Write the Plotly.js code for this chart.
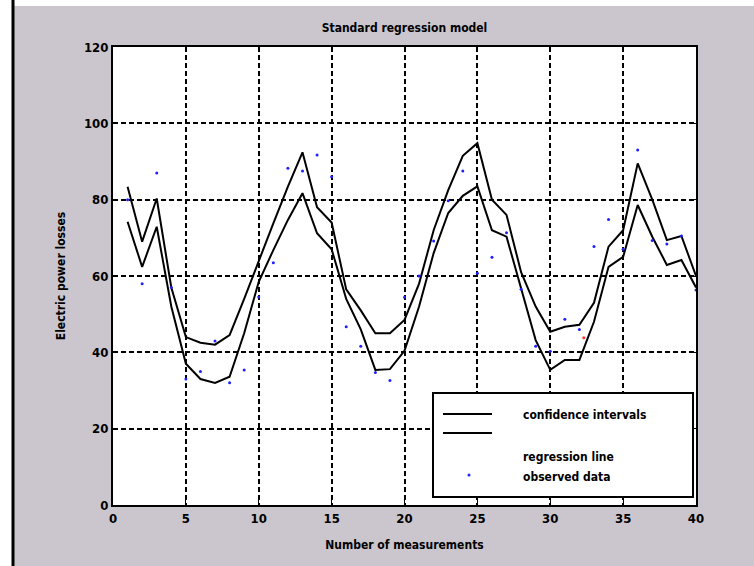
<!DOCTYPE html>
<html>
<head>
<meta charset="utf-8">
<script src="https://cdn.plot.ly/plotly-3.0.1.min.js"></script>
<style>html,body{margin:0;padding:0;background:#fff;}#chart{width:754px;height:566px;}</style>
</head>
<body>
<div id="chart"></div>
<script>
// Measurement index
const measurements = [1,2,3,4,5,6,7,8,9,10,11,12,13,14,15,16,17,18,19,20,21,22,23,24,25,26,27,28,29,30,31,32,33,34,35,36,37,38,39,40];
// Upper confidence bound
const upperCI = [83.4,69,80.3,57,44,42.5,42,44.5,54,64,73.8,83.4,92.4,78,74,56.5,51,45,45,48.5,58,72,82.5,91.5,94.8,80,76,61,52,45.4,46.7,47.2,53,67.7,72,89.5,80,69.4,70.5,60];
// Lower confidence bound
const lowerCI = [74.2,62.4,72.9,52,37,33,32,33.6,45,58.5,66.8,74.7,81.7,71.2,67,54,46,35.4,35.6,40.4,52,66,76.5,81,83.5,72,70.3,57,43.2,35.4,38,38,48,62.4,65,78.6,70.3,62.9,64.2,57];
// Observed data
const observed = [80,58,87,57,33,35,43,32,35.4,54.5,63.5,88.2,87.5,91.7,86,46.7,41.6,34.7,32.6,54.4,60,69.2,79.7,87.5,60.7,64.9,71.3,56.5,41.6,40.3,48.7,46,67.7,74.8,67,93,69.3,68.4,70.5,56.3];
// Highlighted point
const markedX = [32.3];
const markedY = [43.8];

const xTicks = [0,5,10,15,20,25,30,35,40];
const yTicks = [0,20,40,60,80,100,120];

const FONT = "'DejaVu Sans Condensed','DejaVu Sans',Arial,sans-serif";
const tickFont = {family: FONT, size: 13, color: '#000', weight: 'bold'};
const textFont = {family: FONT, size: 12, color: '#000', weight: 'bold'};

const traces = [
  {x: measurements, y: upperCI, mode: 'lines', line: {color: '#000', width: 2}, hoverinfo: 'skip'},
  {x: measurements, y: lowerCI, mode: 'lines', line: {color: '#000', width: 2}, hoverinfo: 'skip'},
  {x: measurements, y: observed, mode: 'markers', marker: {color: '#2020ff', size: 3}},
  {x: markedX, y: markedY, mode: 'markers', marker: {color: '#ff3030', size: 3}}
];

const L = 113, R = 696, T = 47, B = 505;
const px = v => (v - L) / (R - L);
const py = v => (B - v) / (B - T);

const axisCommon = {
  showline: true, linecolor: '#000', linewidth: 2, mirror: 'ticks',
  ticks: 'inside', ticklen: 5, tickwidth: 1, tickcolor: '#000',
  showgrid: true, gridcolor: '#000', gridwidth: 2, griddash: '5px,3px',
  zeroline: false, tickfont: tickFont
};

const layout = {
  width: 754, height: 566,
  margin: {l: L, r: 754 - R, t: T, b: 566 - B},
  paper_bgcolor: '#cbc6cd', plot_bgcolor: '#ffffff',
  showlegend: false,
  title: {text: 'Standard regression model', x: 0.5, xref: 'paper', y: 1 - 28/566, yref: 'container', yanchor: 'middle',
          font: textFont},
  xaxis: Object.assign({}, axisCommon, {range: [0, 40], tickvals: xTicks, ticktext: xTicks.map(String),
          title: {text: 'Number of measurements', standoff: 16, font: textFont}}),
  yaxis: Object.assign({}, axisCommon, {range: [0, 120], tickvals: yTicks, ticktext: yTicks.map(String),
          title: {text: 'Electric power losses', standoff: 16, font: textFont}}),
  shapes: [
    {type: 'rect', xref: 'paper', yref: 'paper', x0: -113/583, x1: -101/583, y0: -2, y1: 2, fillcolor: '#ffffff', line: {width: 0}, layer: 'below'},
    {type: 'rect', xref: 'paper', yref: 'paper', x0: -2, x1: 2, y0: py(6), y1: py(-20), fillcolor: '#ffffff', line: {width: 0}, layer: 'below'},
    {type: 'line', xref: 'paper', yref: 'paper', x0: px(13), x1: px(13), y0: py(0), y1: py(570), line: {color: '#000', width: 3}},
    {type: 'rect', xref: 'paper', yref: 'paper', x0: px(433), x1: px(693), y0: py(497), y1: py(393), fillcolor: '#ffffff', line: {color: '#000', width: 2}, layer: 'above'},
    {type: 'line', xref: 'paper', yref: 'paper', x0: px(443), x1: px(492), y0: py(414), y1: py(414), line: {color: '#000', width: 2}},
    {type: 'line', xref: 'paper', yref: 'paper', x0: px(443), x1: px(492), y0: py(433), y1: py(433), line: {color: '#000', width: 2}},
    {type: 'circle', xref: 'paper', yref: 'paper', x0: px(467.5), x1: px(470.5), y0: py(476.5), y1: py(473.5), fillcolor: '#2020ff', line: {width: 0}}
  ],
  annotations: [
    {text: 'confidence intervals', xref: 'paper', yref: 'paper', x: px(521), y: py(415), xanchor: 'left', yanchor: 'middle', showarrow: false, font: textFont},
    {text: 'regression line', xref: 'paper', yref: 'paper', x: px(521), y: py(457), xanchor: 'left', yanchor: 'middle', showarrow: false, font: textFont},
    {text: 'observed data', xref: 'paper', yref: 'paper', x: px(521), y: py(477), xanchor: 'left', yanchor: 'middle', showarrow: false, font: textFont}
  ]
};

Plotly.newPlot('chart', traces, layout, {displayModeBar: false, staticPlot: true});
</script>
</body>
</html>
